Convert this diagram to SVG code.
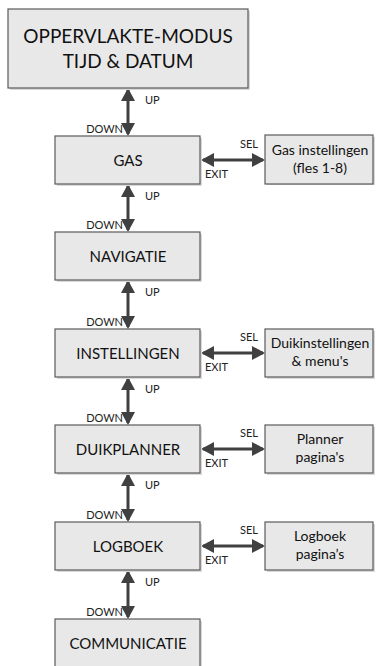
<svg xmlns="http://www.w3.org/2000/svg" width="376" height="666" viewBox="0 0 376 666">
<defs>
<style>
.box{fill:#e8e8e8;stroke:#5a5a5a;stroke-width:1.2}
.shadow{fill:#d9d9d9}
.t{font-family:Lato,"Open Sans","Liberation Sans",sans-serif;fill:#111;text-anchor:middle}
.big{font-size:19px}
.mid{font-size:15px}
.sm{font-size:14px}
.lab{font-family:Lato,"Open Sans","Liberation Sans",sans-serif;font-size:11px;fill:#222}
.arr{stroke:#404040;stroke-width:3;fill:none;marker-start:url(#ah);marker-end:url(#ah)}
</style>
<marker id="ah" viewBox="0 0 13 14" refX="11" refY="7" markerWidth="13" markerHeight="14" markerUnits="userSpaceOnUse" orient="auto-start-reverse">
<path d="M0,0 L13,7 L0,14 Z" fill="#404040"/>
</marker>
</defs>
<rect width="376" height="666" fill="#fff"/>
<g id="connectors">
<line class="arr" x1="128" y1="90" x2="128" y2="134"/>
<line class="arr" x1="128" y1="186" x2="128" y2="230"/>
<line class="arr" x1="128" y1="282" x2="128" y2="327"/>
<line class="arr" x1="128" y1="379" x2="128" y2="423"/>
<line class="arr" x1="128" y1="475" x2="128" y2="520"/>
<line class="arr" x1="128" y1="572" x2="128" y2="617"/>
<line class="arr" x1="203" y1="160" x2="263" y2="160"/>
<line class="arr" x1="203" y1="353" x2="263" y2="353"/>
<line class="arr" x1="203" y1="449" x2="263" y2="449"/>
<line class="arr" x1="203" y1="546" x2="263" y2="546"/>
<text class="lab" x="145" y="104">UP</text>
<text class="lab" x="123" y="133" text-anchor="end">DOWN</text>
<text class="lab" x="145" y="200">UP</text>
<text class="lab" x="123" y="229" text-anchor="end">DOWN</text>
<text class="lab" x="145" y="296">UP</text>
<text class="lab" x="123" y="326" text-anchor="end">DOWN</text>
<text class="lab" x="145" y="393">UP</text>
<text class="lab" x="123" y="422" text-anchor="end">DOWN</text>
<text class="lab" x="145" y="489">UP</text>
<text class="lab" x="123" y="519" text-anchor="end">DOWN</text>
<text class="lab" x="145" y="586">UP</text>
<text class="lab" x="123" y="616" text-anchor="end">DOWN</text>
<text class="lab" x="240" y="148">SEL</text>
<text class="lab" x="205" y="178">EXIT</text>
<text class="lab" x="240" y="341">SEL</text>
<text class="lab" x="205" y="371">EXIT</text>
<text class="lab" x="240" y="437">SEL</text>
<text class="lab" x="205" y="467">EXIT</text>
<text class="lab" x="240" y="534">SEL</text>
<text class="lab" x="205" y="564">EXIT</text>
</g>
<g id="surface">
<rect class="shadow" x="10" y="11" width="240" height="79"/>
<rect class="box" x="8" y="9" width="240" height="79"/>
<text class="t big" x="128" y="43">OPPERVLAKTE-MODUS</text>
<text class="t big" x="128" y="68">TIJD &amp; DATUM</text>
</g>
<g id="gas">
<rect class="shadow" x="57" y="138" width="145" height="48"/>
<rect class="box" x="55" y="136" width="145" height="48"/>
<text class="t mid" x="128" y="165.5">GAS</text>
</g>
<g id="gas-instellingen">
<rect class="shadow" x="267" y="137" width="108" height="48"/>
<rect class="box" x="265" y="135" width="108" height="49"/>
<text class="t sm" x="320" y="155">Gas instellingen</text>
<text class="t sm" x="320" y="173">(fles 1-8)</text>
</g>
<g id="navigatie">
<rect class="shadow" x="57" y="234" width="145" height="48"/>
<rect class="box" x="55" y="232" width="145" height="48"/>
<text class="t mid" x="128" y="261.5">NAVIGATIE</text>
</g>
<g id="instellingen">
<rect class="shadow" x="57" y="331" width="145" height="48"/>
<rect class="box" x="55" y="329" width="145" height="48"/>
<text class="t mid" x="128" y="358.5">INSTELLINGEN</text>
</g>
<g id="duikinstellingen">
<rect class="shadow" x="267" y="331" width="108" height="48"/>
<rect class="box" x="265" y="329" width="108" height="48"/>
<text class="t sm" x="320" y="348">Duikinstellingen</text>
<text class="t sm" x="320" y="366">&amp; menu's</text>
</g>
<g id="duikplanner">
<rect class="shadow" x="57" y="427" width="145" height="48"/>
<rect class="box" x="55" y="425" width="145" height="48"/>
<text class="t mid" x="128" y="454.5">DUIKPLANNER</text>
</g>
<g id="planner-paginas">
<rect class="shadow" x="267" y="427" width="108" height="48"/>
<rect class="box" x="265" y="425" width="108" height="48"/>
<text class="t sm" x="320" y="444">Planner</text>
<text class="t sm" x="320" y="462">pagina's</text>
</g>
<g id="logboek">
<rect class="shadow" x="57" y="524" width="145" height="48"/>
<rect class="box" x="55" y="522" width="145" height="48"/>
<text class="t mid" x="128" y="551.5">LOGBOEK</text>
</g>
<g id="logboek-paginas">
<rect class="shadow" x="267" y="524" width="108" height="48"/>
<rect class="box" x="265" y="522" width="108" height="48"/>
<text class="t sm" x="320" y="541">Logboek</text>
<text class="t sm" x="320" y="559">pagina’s</text>
</g>
<g id="communicatie">
<rect class="shadow" x="57" y="621" width="145" height="48"/>
<rect class="box" x="55" y="619" width="145" height="48"/>
<text class="t mid" x="128" y="648.5">COMMUNICATIE</text>
</g>
</svg>
